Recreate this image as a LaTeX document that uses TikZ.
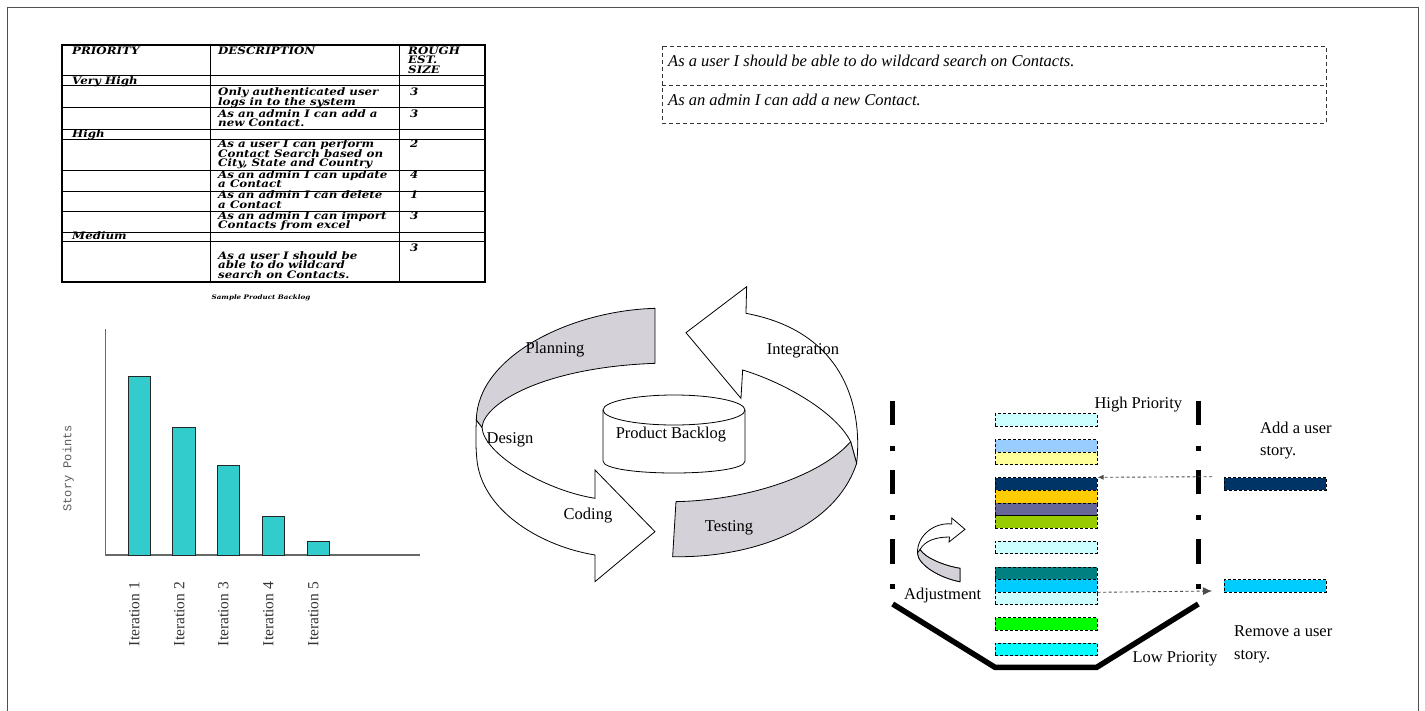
\documentclass[tikz,border=0pt]{standalone}
\usepackage{fontspec}
\setmainfont{Liberation Serif}
\newfontfamily\tabfont[FakeStretch=1.15]{DejaVu Serif}
\newfontfamily\typefont{Liberation Mono}
\usetikzlibrary{arrows.meta}

\definecolor{bandgray}{RGB}{212,210,216}
\definecolor{barcyan}{RGB}{51,204,204}
\definecolor{framegray}{RGB}{80,80,80}
\definecolor{axisgray}{RGB}{105,105,105}
\definecolor{lcyan}{HTML}{CCFFFF}
\definecolor{lblue}{HTML}{99CCFF}
\definecolor{lyellow}{HTML}{FFFF99}
\definecolor{navy}{HTML}{003366}
\definecolor{gold}{HTML}{FFCC00}
\definecolor{slate}{HTML}{666699}
\definecolor{lime}{HTML}{99CC00}
\definecolor{teal}{HTML}{008080}
\definecolor{sky}{HTML}{00CCFF}
\definecolor{green}{HTML}{00FF00}
\definecolor{aqua}{HTML}{00FFFF}

\begin{document}
\begin{tikzpicture}[x=1pt,y=-1pt,
  tabtxt/.style={font=\tabfont\bfseries\itshape\fontsize{10.3}{11}\selectfont, inner sep=0pt, anchor=base west},
  lbl/.style={font=\fontsize{16.5}{20}\selectfont, inner sep=0pt},
  lblw/.style={lbl, anchor=base west},
  boxtxt/.style={font=\itshape\fontsize{16.5}{20}\selectfont, inner sep=0pt, anchor=base west},
  itlabel/.style={font=\fontsize{15.5}{18}\selectfont, text=black!80, inner sep=0pt, rotate=90, anchor=east},
  storybar/.style={draw=black, line width=0.8pt, dash pattern=on 3pt off 2pt, inner sep=0pt,
    minimum width=101.7pt, minimum height=12.5pt, anchor=north west},
  chartbar/.style={fill=barcyan, draw=black!85, line width=0.9pt},
  band/.style={draw=black, line width=0.8pt},
  dotline/.style={draw=black!70, line width=0.9pt, dash pattern=on 3pt off 2.5pt},
  column/.style={line width=5.5pt, dash pattern=on 24.3pt off 20.7pt on 5pt off 19.3pt},
]
\useasboundingbox (0,0) rectangle (1425,710);

% page frame
\draw[framegray, line width=1pt] (7,712) -- (7,7) -- (1418,7) -- (1418,712);

% ---------------- product backlog table ----------------
\draw[line width=0.9pt]
  (62,75.7) -- (485,75.7)  (62,85.7) -- (485,85.7)
  (62,107.7) -- (485,107.7) (62,129.3) -- (485,129.3)
  (62,139) -- (485,139)    (62,170) -- (485,170)
  (62,191) -- (485,191)    (62,211) -- (485,211)
  (62,232.3) -- (485,232.3) (62,241.7) -- (485,241.7)
  (210,45) -- (210,281.7)  (399,45) -- (399,281.7);
\draw[line width=1.6pt] (62,45) rectangle (485,281.7);

\node[tabtxt] (hprio) at (72,54) {PRIORITY};
\node[tabtxt] (hdesc) at (218,54) {DESCRIPTION};
\node[tabtxt] (hsize1) at (408,54) {ROUGH};
\node[tabtxt] (hsize2) at (408,63.7) {EST.};
\node[tabtxt] (hsize3) at (408,73.2) {SIZE};

\node[tabtxt] (pvh) at (72,84.3) {Very High};
\node[tabtxt] (d1a) at (218,95.3) {Only authenticated user};
\node[tabtxt] (d1b) at (218,105.9) {logs in to the system};
\node[tabtxt] (e1) at (410,95.3) {3};
\node[tabtxt] (d2a) at (218,117) {As an admin I can add a};
\node[tabtxt] (d2b) at (218,126.6) {new Contact.};
\node[tabtxt] (e2) at (410,117) {3};

\node[tabtxt] (ph) at (72,137) {High};
\node[tabtxt] (d3a) at (218,147.3) {As a user I can perform};
\node[tabtxt] (d3b) at (218,157) {Contact Search based on};
\node[tabtxt] (d3c) at (218,166.9) {City, State and Country};
\node[tabtxt] (e3) at (410,147.3) {2};
\node[tabtxt] (d4a) at (218,178) {As an admin I can update};
\node[tabtxt] (d4b) at (218,187.6) {a Contact};
\node[tabtxt] (e4) at (410,178) {4};
\node[tabtxt] (d5a) at (218,198.4) {As an admin I can delete};
\node[tabtxt] (d5b) at (218,208.2) {a Contact};
\node[tabtxt] (e5) at (410,198.4) {1};
\node[tabtxt] (d6a) at (218,219) {As an admin I can import};
\node[tabtxt] (d6b) at (218,228.6) {Contacts from excel};
\node[tabtxt] (e6) at (410,219) {3};

\node[tabtxt] (pm) at (72,239.5) {Medium};
\node[tabtxt] (e7) at (410,251.5) {3};
\node[tabtxt] (d7a) at (218,259) {As a user I should be};
\node[tabtxt] (d7b) at (218,268.8) {able to do wildcard};
\node[tabtxt] (d7c) at (218,278.3) {search on Contacts.};

\node[font=\tabfont\bfseries\itshape\fontsize{6.2}{8}\selectfont, inner sep=0pt] (cap) at (261,297.7) {Sample Product Backlog};

% ---------------- selected stories ----------------
\draw[black!80, line width=0.9pt, dash pattern=on 4pt off 3pt]
  (662,46) rectangle (1326,123) (662,85) -- (1326,85);
\node[boxtxt] (sel1) at (668,66.5) {As a user I should be able to do wildcard search on Contacts.};
\node[boxtxt] (sel2) at (668,105.5) {As an admin I can add a new Contact.};

% ---------------- burndown chart ----------------
\draw[axisgray, line width=1.3pt] (105.7,329) -- (105.7,555) -- (420,555);
\filldraw[chartbar] (128.3,376.3) rectangle (150.8,555);
\filldraw[chartbar] (172.7,427.3) rectangle (195.2,555);
\filldraw[chartbar] (217.3,465.3) rectangle (239.8,555);
\filldraw[chartbar] (262,516.7) rectangle (284.5,555);
\filldraw[chartbar] (307,541.7) rectangle (329.5,555);
\node[font=\typefont\fontsize{12}{14}\selectfont, text=black!65, rotate=90, inner sep=0pt] (ylab) at (68.3,468.3) {Story Points};
\node[itlabel] (it1) at (134.3,581.7) {Iteration 1};
\node[itlabel] (it2) at (179.3,581.7) {Iteration 2};
\node[itlabel] (it3) at (223.3,581.7) {Iteration 3};
\node[itlabel] (it4) at (268.3,581.7) {Iteration 4};
\node[itlabel] (it5) at (313.3,581.7) {Iteration 5};

% ---------------- iteration cycle ----------------
\begin{scope}[shift={(460,280)}, scale=0.3333]
  % Design / Coding ribbon with its arrow head
  \filldraw[band, fill=white] (49,420) .. controls (47,470) and (47,510) .. (52,550)
    .. controls (75,700) and (250,800) .. (405,825) -- (405,905) -- (585,755) -- (405,570) -- (405,655)
    .. controls (250,630) and (70,520) .. (66,442) -- cycle;
  % Planning, inner face of the ribbon
  \filldraw[band, fill=bandgray] (585,85) .. controls (330,92) and (52,230) .. (49,420) -- (66,442)
    .. controls (72,370) and (250,262) .. (585,250) -- cycle;
  % Integration ribbon with its arrow head
  \filldraw[band, fill=white] (1190,550) .. controls (1205,420) and (1180,160) .. (858,100)
    -- (860,20) -- (678,158) -- (843,355) -- (848,270)
    .. controls (980,310) and (1130,400) .. (1172,485) -- cycle;
  % Testing, inner face of the ribbon
  \filldraw[band, fill=bandgray] (648,665) -- (638,830) .. controls (850,835) and (1120,760) .. (1190,550)
    -- (1172,485) .. controls (1090,580) and (880,660) .. (648,665) -- cycle;
\end{scope}
% backlog store
\filldraw[band, fill=white] (603,410) -- (603,461) .. controls (603,477) and (745,477) .. (745,461) -- (745,410);
\draw[band] (674,410) ellipse [x radius=71, y radius=15];
\node[lbl] (backlog) at (671,435) {Product Backlog};
\node[lbl] (plan) at (555,350) {Planning};
\node[lbl] (integ) at (803,350.7) {Integration};
\node[lbl] (design) at (510,440) {Design};
\node[lbl] (coding) at (588,516) {Coding};
\node[lbl] (testing) at (729,528) {Testing};

% ---------------- prioritised story stack ----------------
\draw[column] (892.7,400.7) -- (892.7,592);
\draw[column] (1198.3,400.7) -- (1198.3,592);
\draw[line width=5.5pt] (892.7,604) -- (995,667.3) -- (1096.7,667.3) -- (1198.3,604);

\node[storybar, fill=lcyan]   (s1)  at (995,413.3) {};
\node[storybar, fill=lblue]   (s2)  at (995,439.3) {};
\node[storybar, fill=lyellow] (s3)  at (995,451.7) {};
\node[storybar, fill=navy]    (s4)  at (995,477.3) {};
\node[storybar, fill=gold]    (s5)  at (995,490) {};
\node[storybar, fill=slate]   (s6)  at (995,502.7) {};
\node[storybar, fill=lime]    (s7)  at (995,515.3) {};
\node[storybar, fill=lcyan]   (s8)  at (995,540.7) {};
\node[storybar, fill=teal]    (s9)  at (995,566.7) {};
\node[storybar, fill=sky]     (s10) at (995,579) {};
\node[storybar, fill=lcyan]   (s11) at (995,591.7) {};
\node[storybar, fill=green]   (s12) at (995,617.3) {};
\node[storybar, fill=aqua]    (s13) at (995,642.7) {};

\node[storybar, fill=navy, minimum width=102pt] (addbar) at (1224,477.3) {};
\node[storybar, fill=sky, minimum width=102pt]  (rembar) at (1224,579.3) {};

\coordinate (addfrom) at (1212,476.7);
\coordinate (remto) at (1212,591);
\draw[dotline, -{Latex[length=6pt,width=5pt]}] (addfrom) -- (s4.north east);
\draw[dotline, -{Latex[length=9pt,width=8pt]}] (s10.south east) -- (remto);

\node[lbl] (high) at (1138.3,405) {High Priority};
\node[lbl] (low) at (1175,659.3) {Low Priority};
\node[lblw] (add1) at (1260,433) {Add a user};
\node[lblw] (add2) at (1260,455) {story.};
\node[lblw] (rem1) at (1234,636.7) {Remove a user};
\node[lblw] (rem2) at (1234,659) {story.};
\node[lbl] (adj) at (942.7,596) {Adjustment};

% adjustment arrow
\filldraw[band, fill=white] (951.7,524) .. controls (935,522) and (917,535) .. (917.5,553)
  .. controls (918,565) and (940,578) .. (960,581.7) -- (960,568.3)
  .. controls (945,566) and (925,558) .. (920,549.5)
  .. controls (925,541) and (935,537) .. (949.5,537)
  -- (949,542) -- (965,529.3) -- (951.7,518) -- cycle;
\filldraw[band, fill=bandgray] (920,549.5) .. controls (925,558) and (945,566) .. (960,568.3)
  -- (960,581.7) .. controls (940,578) and (918,565) .. (917.5,553) -- cycle;
\end{tikzpicture}
\end{document}
